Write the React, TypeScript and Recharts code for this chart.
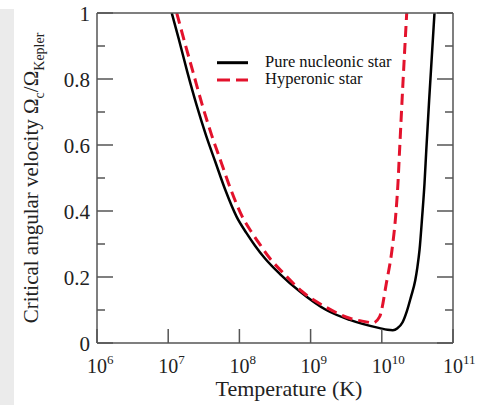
import React from 'react';
import { LineChart, Line, XAxis, YAxis, Legend } from 'recharts';

const decades = [6, 7, 8, 9, 10, 11];
const omegaTicks = [0, 0.1, 0.2, 0.3, 0.4, 0.5, 0.6, 0.7, 0.8, 0.9, 1];
const omegaLabels = ['0', '', '0.2', '', '0.4', '', '0.6', '', '0.8', '', '1'];

// x = log10(T / K), y = Omega_c / Omega_Kepler
const nucleonicLogT = [7.05, 7.15, 7.27, 7.4, 7.53, 7.66, 7.8, 7.96, 8.1, 8.22, 8.36, 8.57, 8.85, 9.22, 9.55, 9.97, 10.08, 10.155, 10.22, 10.29, 10.35, 10.41, 10.47, 10.5, 10.53, 10.567, 10.6, 10.625, 10.665, 10.74];
const nucleonicOmega = [1.0, 0.92, 0.82, 0.72, 0.63, 0.55, 0.465, 0.383, 0.333, 0.295, 0.256, 0.209, 0.156, 0.1, 0.07, 0.045, 0.04, 0.039, 0.045, 0.062, 0.095, 0.14, 0.19, 0.23, 0.282, 0.383, 0.484, 0.585, 0.736, 1.0];

const hyperonicLogT = [7.12, 7.22, 7.35, 7.48, 7.61, 7.74, 7.88, 8.04, 8.18, 8.3, 8.43, 8.63, 8.88, 9.22, 9.55, 9.83, 9.87, 9.97, 10.064, 10.143, 10.194, 10.227, 10.25, 10.3, 10.35];
const hyperonicOmega = [1.0, 0.92, 0.82, 0.72, 0.63, 0.55, 0.465, 0.383, 0.333, 0.295, 0.256, 0.209, 0.156, 0.108, 0.075, 0.062, 0.06, 0.08, 0.181, 0.282, 0.383, 0.484, 0.585, 0.8, 1.0];

const nucleonic = nucleonicLogT.map((t, i) => ({ logT: t, omega: nucleonicOmega[i] }));
const hyperonic = hyperonicLogT.map((t, i) => ({ logT: t, omega: hyperonicOmega[i] }));

const SERIF = '"Liberation Serif", "Times New Roman", serif';
const AXIS = '#555555';
const RED = '#e3122c';

function BottomTick({ x, y, payload }: any) {
  return (
    <g>
      <line x1={x} x2={x} y1={y} y2={y - 14} stroke={AXIS} strokeWidth={1.5} />
      <text x={x} y={y + 30} textAnchor="middle" fontFamily={SERIF} fontSize={20} fill="#222">
        10
      </text>
      <text x={x + 10} y={y + 21} textAnchor="start" fontFamily={SERIF} fontSize={13} fill="#222">
        {payload.value}
      </text>
    </g>
  );
}

function TopTick({ x, y }: any) {
  return <line x1={x} x2={x} y1={y} y2={y + 14} stroke={AXIS} strokeWidth={1.5} />;
}

function LeftTick({ x, y, payload }: any) {
  const i = omegaTicks.indexOf(payload.value);
  const major = i % 2 === 0;
  return (
    <g>
      <line x1={x} x2={x + (major ? 16 : 8)} y1={y} y2={y} stroke={AXIS} strokeWidth={1.5} />
      {major && (
        <text x={x - 7} y={y + 8} textAnchor="end" fontFamily={SERIF} fontSize={21} fill="#222">
          {omegaLabels[i]}
        </text>
      )}
    </g>
  );
}

function RightTick({ x, y, payload }: any) {
  const i = omegaTicks.indexOf(payload.value);
  const major = i % 2 === 0;
  return <line x1={x} x2={x - (major ? 16 : 8)} y1={y} y2={y} stroke={AXIS} strokeWidth={1.5} />;
}

function YTitle() {
  return (
    <text
      x={38}
      y={178}
      transform="rotate(-90, 38, 178)"
      textAnchor="middle"
      fontFamily={SERIF}
      fontSize={21}
      fill="#222"
    >
      Critical angular velocity Ω
      <tspan fontSize={14} dy={6}>c</tspan>
      <tspan dy={-6}>/Ω</tspan>
      <tspan fontSize={14} dy={6}>Kepler</tspan>
    </text>
  );
}

function XTitle() {
  return (
    <text x={289} y={396} textAnchor="middle" fontFamily={SERIF} fontSize={22} fill="#222">
      Temperature (K)
    </text>
  );
}

function LegendBox() {
  return (
    <svg width={200} height={45} style={{ display: 'block' }}>
      <line x1={7} x2={38} y1={12.7} y2={12.7} stroke="#000" strokeWidth={3} />
      <text x={55} y={16.7} fontFamily={SERIF} fontSize={16.5} fill="#111">
        Pure nucleonic star
      </text>
      <line x1={7} x2={38} y1={30} y2={30} stroke={RED} strokeWidth={3} strokeDasharray="13 6" />
      <text x={55} y={34.3} fontFamily={SERIF} fontSize={16.5} fill="#111">
        Hyperonic star
      </text>
    </svg>
  );
}

export default function App() {
  return (
    <div style={{ position: 'absolute', left: 0, top: 0, width: 477, height: 405, background: '#fff' }}>
      <div style={{ position: 'absolute', left: 0, top: 9, width: 14, height: 396, background: '#ebebeb' }} />
      <LineChart width={477} height={405} margin={{ top: 12, right: 23, bottom: 22, left: 37 }}>
        <XAxis
          dataKey="logT"
          type="number"
          domain={[6, 11]}
          ticks={decades}
          allowDataOverflow
          height={40}
          tickSize={0}
          tickMargin={0}
          tickLine={false}
          axisLine={{ stroke: AXIS, strokeWidth: 1.5 }}
          tick={<BottomTick />}
          label={<XTitle />}
        />
        <XAxis
          xAxisId="top"
          orientation="top"
          type="number"
          domain={[6, 11]}
          ticks={decades}
          allowDataOverflow
          height={1}
          tickSize={0}
          tickMargin={0}
          tickLine={false}
          axisLine={{ stroke: AXIS, strokeWidth: 1.5 }}
          tick={<TopTick />}
        />
        <YAxis
          type="number"
          domain={[0, 1]}
          ticks={omegaTicks}
          allowDataOverflow
          width={60}
          tickSize={0}
          tickMargin={0}
          tickLine={false}
          axisLine={{ stroke: AXIS, strokeWidth: 1.5 }}
          tick={<LeftTick />}
          label={<YTitle />}
        />
        <YAxis
          yAxisId="right"
          orientation="right"
          type="number"
          domain={[0, 1]}
          ticks={omegaTicks}
          allowDataOverflow
          width={1}
          tickSize={0}
          tickMargin={0}
          tickLine={false}
          axisLine={{ stroke: AXIS, strokeWidth: 1.5 }}
          tick={<RightTick />}
        />
        <Legend
          layout="vertical"
          align="center"
          verticalAlign="middle"
          content={<LegendBox />}
          wrapperStyle={{ left: 210, top: 50, width: 200, height: 45 }}
        />
        <Line
          data={nucleonic}
          dataKey="omega"
          type="monotone"
          stroke="#000"
          strokeWidth={2.5}
          dot={false}
          isAnimationActive={false}
        />
        <Line
          data={hyperonic}
          dataKey="omega"
          type="monotone"
          stroke={RED}
          strokeWidth={3}
          strokeDasharray="11 6"
          dot={false}
          isAnimationActive={false}
        />
      </LineChart>
    </div>
  );
}
